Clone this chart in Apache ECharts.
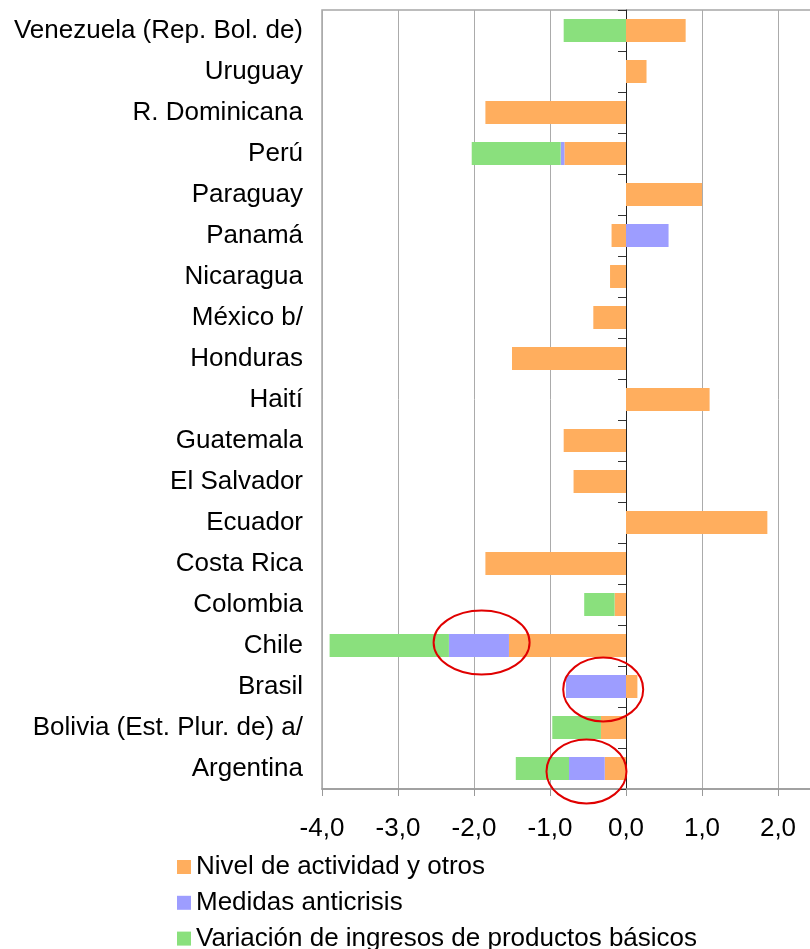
<!DOCTYPE html>
<html>
<head>
<meta charset="utf-8">
<script src="https://cdn.jsdelivr.net/npm/echarts@6/dist/echarts.min.js"></script>
<style>
  html, body { margin: 0; padding: 0; background: #fff; }
  #chart { width: 810px; height: 949px; }
</style>
</head>
<body>
<div id="chart"></div>
<script>
// categories, bottom to top
var paises = ['Argentina', 'Bolivia (Est. Plur. de) a/', 'Brasil', 'Chile', 'Colombia',
  'Costa Rica', 'Ecuador', 'El Salvador', 'Guatemala', 'Haití', 'Honduras', 'México b/',
  'Nicaragua', 'Panamá', 'Paraguay', 'Perú', 'R. Dominicana', 'Uruguay',
  'Venezuela (Rep. Bol. de)'];

var nivelActividad = [-0.28, -0.33, 0.15, -1.54, -0.15, -1.85, 1.86, -0.69, -0.82, 1.10,
  -1.50, -0.43, -0.21, -0.19, 1.00, -0.81, -1.85, 0.27, 0.785];
var medidasAnticrisis = [-0.47, 0, -0.79, -0.79, 0, 0, 0, 0, 0, 0,
  0, 0, 0, 0.56, 0, -0.05, 0, 0, 0];
var ingresosBasicos = [-0.70, -0.64, 0, -1.57, -0.40, 0, 0, 0, 0, 0,
  0, 0, 0, 0, 0, -1.17, 0, 0, -0.82];

var nombresSeries = ['Nivel de actividad y otros', 'Medidas anticrisis',
  'Variación de ingresos de productos básicos'];
var colores = ['#FFAE5E', '#9D9DFF', '#8AE07D'];

// circled segments: [category, value at ellipse centre]
var circulos = [['Chile', -1.9], ['Brasil', -0.3], ['Argentina', -0.52]];

var chart = echarts.init(document.getElementById('chart'));
var fuente = 'Liberation Sans, Arial, sans-serif';

function serie(i, data) {
  return {
    name: nombresSeries[i],
    type: 'bar',
    stack: 'total',
    data: data,
    barCategoryGap: '44%',
    itemStyle: { color: colores[i] },
    yAxisIndex: 0
  };
}

// one legend per row so they stack without wrapping
var leyendas = nombresSeries.map(function (n, i) {
  return {
    data: [n], left: 177, top: 854 + i * 35.8, padding: 0,
    itemWidth: 14, itemHeight: 14, icon: 'rect', selectedMode: false,
    textStyle: { fontSize: 26, color: '#000', fontFamily: fuente, lineHeight: 26 }
  };
});

chart.setOption({
  animation: false,
  textStyle: { fontFamily: fuente },
  grid: { left: 322, top: 10, width: 532, height: 779, show: true,
    outerBoundsMode: 'none', containLabel: false,
    borderColor: '#a6a6a6', borderWidth: 1.5, backgroundColor: 'transparent' },
  legend: leyendas,
  xAxis: {
    type: 'value', min: -4, max: 3, interval: 1,
    axisLine: { show: true, onZero: false, lineStyle: { color: '#999', width: 1.5 } },
    axisTick: { show: true, length: 7, lineStyle: { color: '#999' } },
    splitLine: { show: true, lineStyle: { color: '#ababab', width: 1 } },
    axisLabel: { fontSize: 26, color: '#000', margin: 27,
      formatter: function (v) { return v.toFixed(1).replace('.', ','); } }
  },
  yAxis: [{
    type: 'category', data: paises,
    axisLine: { show: false, onZero: false },
    axisTick: { show: false },
    axisLabel: { fontSize: 26, color: '#000', margin: 19 }
  }, {
    type: 'category', data: paises, position: 'left',
    axisLine: { show: true, onZero: true, lineStyle: { color: '#222', width: 1 } },
    axisTick: { show: true, length: 8, lineStyle: { color: '#333' } },
    axisLabel: { show: false }
  }],
  series: [
    serie(0, nivelActividad),
    serie(1, medidasAnticrisis),
    serie(2, ingresosBasicos)
  ]
});

var elipses = circulos.map(function (c, i) {
  var p = chart.convertToPixel({ gridIndex: 0 }, [c[1], c[0]]);
  return {
    type: 'ellipse',
    shape: { cx: p[0], cy: p[1] + (i === 0 ? -3 : 3), rx: i === 0 ? 48 : 40, ry: 32 },
    style: { fill: 'none', stroke: '#e00000', lineWidth: 2 },
    z: 100
  };
});
chart.setOption({ graphic: elipses });
</script>
</body>
</html>
